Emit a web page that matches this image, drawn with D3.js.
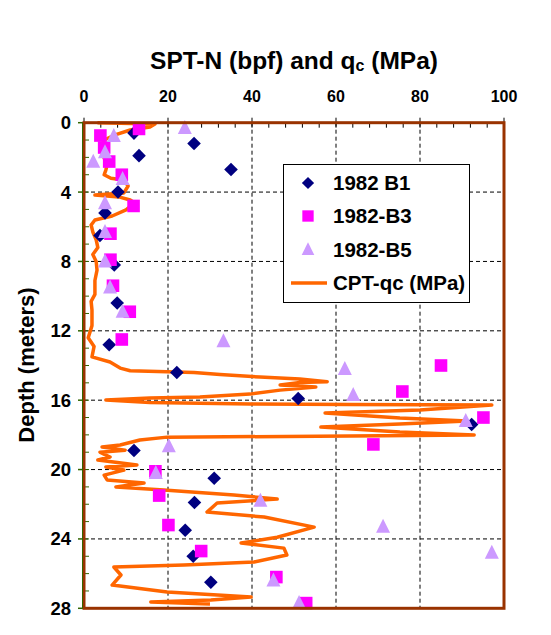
<!DOCTYPE html>
<html><head><meta charset="utf-8">
<script src="https://cdn.jsdelivr.net/npm/d3@7"></script>
<style>body{margin:0;background:#fff;} text{font-family:Arial,"Liberation Sans",sans-serif;font-weight:bold;fill:#000;}</style>
</head><body><svg id="c" width="551" height="635"></svg>
<script>
// ---- data ----
const xTicks=[0,20,40,60,80,100];
const yTicks=[0,4,8,12,16,20,24,28];
const b1Depth=[0.6,1.9,1.2,2.7,4.0,5.2,6.5,8.2,10.4,12.8,14.4,15.9,17.4,18.9,20.5,21.9,23.5,25.0,26.5];
const b1N=[11.9,13.1,26.2,35.0,8.1,5.0,3.8,7.2,7.9,6.0,22.1,51.0,92.3,11.9,31.0,26.3,24.1,26.0,30.2];
const b3Depth=[0.36,0.74,1.43,2.24,3.0,4.8,6.4,7.9,9.4,10.9,12.5,14.0,15.5,17.0,18.55,20.1,21.5,23.2,24.7,26.2,27.7];
const b3N=[13.1,3.9,4.8,6.0,9.0,11.8,6.3,6.3,6.9,10.9,9.0,85.0,75.8,95.1,68.9,17.0,17.9,20.1,27.9,45.8,52.9];
const b5Depth=[0.3,0.77,1.7,2.25,3.25,4.65,6.3,8.0,9.5,10.9,12.6,14.2,15.7,17.2,18.65,20.2,21.8,23.3,24.8,26.4,27.7];
const b5N=[24.0,7.1,5.0,2.2,9.2,5.0,5.0,5.0,6.2,9.2,33.2,62.1,64.1,90.9,20.2,17.1,42.0,71.2,97.1,45.1,51.2];
const cptDepth=[0.0,0.08,0.25,0.42,0.7,1.0,1.46,1.86,2.44,2.73,3.0,3.2,3.3,3.65,4.05,4.17,4.28,4.46,4.63,5.03,5.38,5.61,5.9,6.3,6.76,7.2,7.6,8.0,8.5,9.1,9.9,10.3,10.8,11.7,12.4,12.9,13.5,13.8,14.15,14.3,14.4,14.52,14.67,14.78,14.93,14.98,15.13,15.24,15.42,15.65,15.82,15.88,15.99,16.14,16.22,16.25,16.28,16.57,16.74,17.03,17.2,17.38,17.55,17.84,18.01,18.07,18.13,18.3,18.58,18.7,18.88,19.0,19.28,19.45,19.74,19.85,20.03,20.32,20.6,20.78,21.0,21.18,21.47,21.7,21.93,22.45,22.74,23.32,23.9,24.24,24.53,24.93,25.33,25.5,25.62,26.08,26.66,27.06,27.35,27.52,27.64,27.75];
const cptQc=[3.2,16.9,15.7,11,7.4,4.8,4,4.5,5.5,5.2,4.8,6.4,9.5,10.5,9.5,2.6,8.3,11,12.1,10,6.7,2.6,1.7,2.1,2.9,3.3,2.1,2.9,3.1,2.6,2.6,1.7,1.9,1.9,1,2.4,1.9,6.2,8.6,11,26.2,32.4,41.9,51.4,57.9,51.4,46.7,55.2,46.7,39.5,27.6,15.7,5.2,15.7,39.5,63.3,97.1,80,57.4,75.2,91.2,75.2,56.4,75.2,92.9,63.3,19.8,13.3,8.6,4.3,9.8,3.8,6.2,3.3,12.6,5.2,9.5,4.8,5.5,14.3,7.6,19,35.7,46,31.7,29.3,42.9,54.8,46,37.4,47.6,48.3,40.5,23.8,7.1,8.8,6.7,19.8,39.8,30.2,15.9,30];

// ---- layout ----
const L=84,T=122.7,W=420,H=485.6;
const svg=d3.select("#c");
const x=d3.scaleLinear().domain([0,100]).range([L,L+W]);
const y=d3.scaleLinear().domain([0,28]).range([T,T+H]);

// gridlines
const g=svg.append("g");
g.selectAll("line.vx").data(xTicks.filter(d=>d>0&&d<100)).join("line")
 .attr("x1",d=>x(d)).attr("x2",d=>x(d)).attr("y1",T).attr("y2",T+H)
 .attr("stroke","#000").attr("stroke-width",1).attr("stroke-dasharray","4,3");
g.selectAll("line.hy").data(yTicks.filter(d=>d>0&&d<28)).join("line")
 .attr("y1",d=>y(d)).attr("y2",d=>y(d)).attr("x1",L).attr("x2",L+W)
 .attr("stroke","#000").attr("stroke-width",1).attr("stroke-dasharray","4,3");

// minor ticks
svg.append("g").selectAll("line").data(d3.range(0,101,4)).join("line")
 .attr("x1",d=>x(d)).attr("x2",d=>x(d)).attr("y1",T).attr("y2",T+5)
 .attr("stroke","#000");
svg.append("g").selectAll("line").data(d3.range(0,29,1)).join("line")
 .attr("y1",d=>y(d)).attr("y2",d=>y(d)).attr("x1",L).attr("x2",L+5)
 .attr("stroke","#336600");
svg.append("g").selectAll("line").data(yTicks).join("line")
 .attr("y1",d=>y(d)).attr("y2",d=>y(d)).attr("x1",L-6).attr("x2",L)
 .attr("stroke","#336600").attr("stroke-width",1.5);
svg.append("g").selectAll("line").data(xTicks).join("line")
 .attr("x1",d=>x(d)).attr("x2",d=>x(d)).attr("y1",T-5).attr("y2",T)
 .attr("stroke","#000");

// CPT line
const line=d3.line().x(d=>x(d[0])).y(d=>y(d[1]));
svg.append("path").datum(cptQc.map((q,i)=>[q,cptDepth[i]]))
 .attr("d",line).attr("fill","none").attr("stroke","#FF6600").attr("stroke-width",3.5)
 .attr("stroke-linejoin","round");

// markers
const diamond="M0,-6.8L6.8,0L0,6.8L-6.8,0Z";
const square="M-6.3,-6.3H6.3V6.3H-6.3Z";
const tri="M0,-8L7,6L-7,6Z";
svg.append("g").selectAll("path").data(b1N.map((n,i)=>[n,b1Depth[i]])).join("path")
 .attr("d",diamond).attr("transform",d=>`translate(${x(d[0])},${y(d[1])})`).attr("fill","#000080");
svg.append("g").selectAll("path").data(b3N.map((n,i)=>[n,b3Depth[i]])).join("path")
 .attr("d",square).attr("transform",d=>`translate(${x(d[0])},${y(d[1])})`).attr("fill","#FF00FF");
svg.append("g").selectAll("path").data(b5N.map((n,i)=>[n,b5Depth[i]])).join("path")
 .attr("d",tri).attr("transform",d=>`translate(${x(d[0])},${y(d[1])})`).attr("fill","#CC99FF");

// frame
svg.append("rect").attr("x",L).attr("y",T).attr("width",W).attr("height",H)
 .attr("fill","none").attr("stroke","#993300").attr("stroke-width",3);
svg.append("line").attr("x1",L-1.5).attr("x2",L-1.5).attr("y1",T).attr("y2",T+H).attr("stroke","#336600").attr("stroke-width",1);

// tick labels
svg.append("g").selectAll("text").data(xTicks).join("text")
 .attr("x",d=>x(d)).attr("y",T-21).attr("text-anchor","middle").attr("font-size",16).text(d=>d);
svg.append("g").selectAll("text").data(yTicks).join("text")
 .attr("x",L-13).attr("y",d=>y(d)+6.5).attr("text-anchor","end").attr("font-size",18.5).text(d=>d);

// titles
const t=svg.append("text").attr("x",294).attr("y",69).attr("text-anchor","middle").attr("font-size",24.5);
t.append("tspan").text("SPT-N (bpf) and q");
t.append("tspan").attr("font-size",16).attr("dy",2).text("c");
t.append("tspan").attr("dy",-2).text(" (MPa)");
svg.append("text").attr("transform","translate(34,365) rotate(-90)").attr("text-anchor","middle")
 .attr("font-size",22).text("Depth (meters)");

// legend
const lg=svg.append("g");
lg.append("rect").attr("x",283.5).attr("y",164.5).attr("width",186).attr("height",138)
 .attr("fill","#fff").attr("stroke","#000").attr("stroke-width",1);
const items=[["1982 B1",diamond,"#000080"],["1982-B3",square,"#FF00FF"],["1982-B5",tri,"#CC99FF"]];
const ly=[183,216,249.5];
items.forEach((it,i)=>{
  lg.append("path").attr("d",it[1]).attr("transform",`translate(308,${ly[i]}) scale(0.9)`).attr("fill",it[2]);
  lg.append("text").attr("x",333).attr("y",ly[i]+7).attr("font-size",20.5).text(it[0]);
});
lg.append("line").attr("x1",291).attr("x2",327).attr("y1",283).attr("y2",283).attr("stroke","#FF6600").attr("stroke-width",3.5);
lg.append("text").attr("x",333).attr("y",290).attr("font-size",20.5).text("CPT-qc (MPa)");
</script></body></html>
